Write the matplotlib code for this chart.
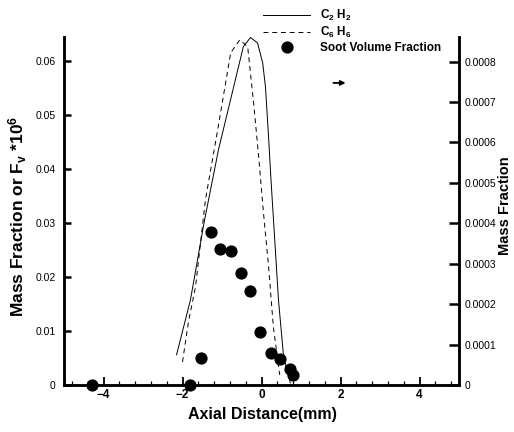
import matplotlib
matplotlib.use('Agg')
import matplotlib.pyplot as plt
from matplotlib.ticker import MultipleLocator

plt.rcParams['font.family'] = ['Liberation Sans', 'DejaVu Sans']
plt.rcParams['mathtext.fontset'] = 'custom'
plt.rcParams['mathtext.rm'] = 'Liberation Sans:bold'
plt.rcParams['mathtext.bf'] = 'Liberation Sans:bold'
plt.rcParams['mathtext.default'] = 'bf'

# C2H2 mass fraction (left axis scale)
c2h2_x = [-2.15, -1.80, -1.44, -1.09, -0.46, -0.28, -0.10, 0.03, 0.10, 0.17, 0.24, 0.33, 0.43, 0.56, 0.73]
c2h2_y = [0.0056, 0.0157, 0.0306, 0.0435, 0.0626, 0.0643, 0.0633, 0.0596, 0.0552, 0.0470, 0.0380,
          0.0275, 0.0157, 0.0052, 0.0004]

# C6H6 mass fraction (right axis scale)
c6h6_x = [-2.00, -1.85, -1.67, -1.42, -1.11, -0.78, -0.55, -0.35, -0.20, -0.08, 0.05, 0.18, 0.30, 0.46]
c6h6_y = [0.000057, 0.000156, 0.000243, 0.000458, 0.000631, 0.000822, 0.000854, 0.000837,
          0.000698, 0.000574, 0.000426, 0.000292, 0.000144, 0.000025]

# soot volume fraction * 1e6 (left axis)
soot_x = [-4.3, -1.8, -1.54, -1.29, -1.04, -0.78, -0.53, -0.28, -0.03, 0.23, 0.46, 0.71, 0.81]
soot_y = [0.0, 0.0, 0.0050, 0.0283, 0.0252, 0.0248, 0.0207, 0.0174, 0.0098, 0.0059, 0.0048, 0.0029, 0.0019]

left_ticks = [0, 0.01, 0.02, 0.03, 0.04, 0.05, 0.06]
right_ticks = [0, 0.0001, 0.0002, 0.0003, 0.0004, 0.0005, 0.0006, 0.0007, 0.0008]
x_ticks = [-4, -2, 0, 2, 4]

fig = plt.figure(figsize=(5.14, 4.32), dpi=100)
ax = fig.add_axes([64 / 514, 1 - 385 / 432, 395 / 514, 348 / 432])
ax2 = ax.twinx()

l1, = ax.plot(c2h2_x, c2h2_y, color='k', lw=0.7, label='C$_2$ H$_2$')
l2, = ax2.plot(c6h6_x, c6h6_y, color='k', lw=0.7, ls=(0, (5, 4)), label='C$_6$ H$_6$')
l3, = ax.plot(soot_x, soot_y, 'o', color='k', ms=7.8, clip_on=False, zorder=5,
              label='Soot Volume Fraction')

ax.annotate('', xy=(2.2, 0.0559), xytext=(1.75, 0.0559),
            arrowprops=dict(arrowstyle='-|>', lw=1.3, color='k', mutation_scale=7))

ax.set_xlim(-5, 5)
ax.set_ylim(0, 0.0644)
ax2.set_ylim(0, 0.000861)

ax.set_xticks(x_ticks)
ax.xaxis.set_minor_locator(MultipleLocator(0.4))
ax.set_yticks(left_ticks)
ax.set_yticklabels(['0' if v == 0 else f'{v:.2f}' for v in left_ticks])
ax2.set_yticks(right_ticks)
ax2.set_yticklabels(['0' if v == 0 else f'{v:.4f}' for v in right_ticks])

for a in (ax, ax2):
    a.spines['top'].set_visible(False)
    for s in ('left', 'right', 'bottom'):
        a.spines[s].set_linewidth(1.8)

ax.tick_params(axis='y', direction='in', length=5, width=1.8, labelsize=7.5, pad=6)
ax.tick_params(axis='x', which='major', direction='in', length=6, width=1.3,
               labelsize=8.5, pad=3)
ax.tick_params(axis='x', which='minor', direction='in', length=3, width=0.9)
for t in ax.get_xticklabels():
    t.set_fontweight('bold')
ax2.tick_params(axis='y', direction='in', length=7, width=1.8, labelsize=7.5, pad=4)

fig.text(262 / 514, 1 - 415 / 432, 'Axial Distance(mm)', ha='center', va='center',
         fontsize=11.5, fontweight='bold')
fig.text(18 / 514, 1 - 216 / 432, 'Mass Fraction or F$_v$ *10$^6$', ha='center', va='center',
         rotation=90, fontsize=12.5, fontweight='bold')
fig.text(505 / 514, 1 - 206 / 432, 'Mass Fraction', ha='center', va='center',
         rotation=90, fontsize=10.5, fontweight='bold')

leg = ax.legend(handles=[l1, l2, l3], loc='upper left', bbox_to_anchor=(255 / 514, 1.0),
                bbox_transform=fig.transFigure, frameon=False, handlelength=4,
                labelspacing=0.15, borderpad=0.2, handletextpad=0.8,
                prop={'family': 'Liberation Sans', 'weight': 'bold', 'size': 8.5})
leg.set_zorder(10)

fig.savefig('out.png', dpi=100)
